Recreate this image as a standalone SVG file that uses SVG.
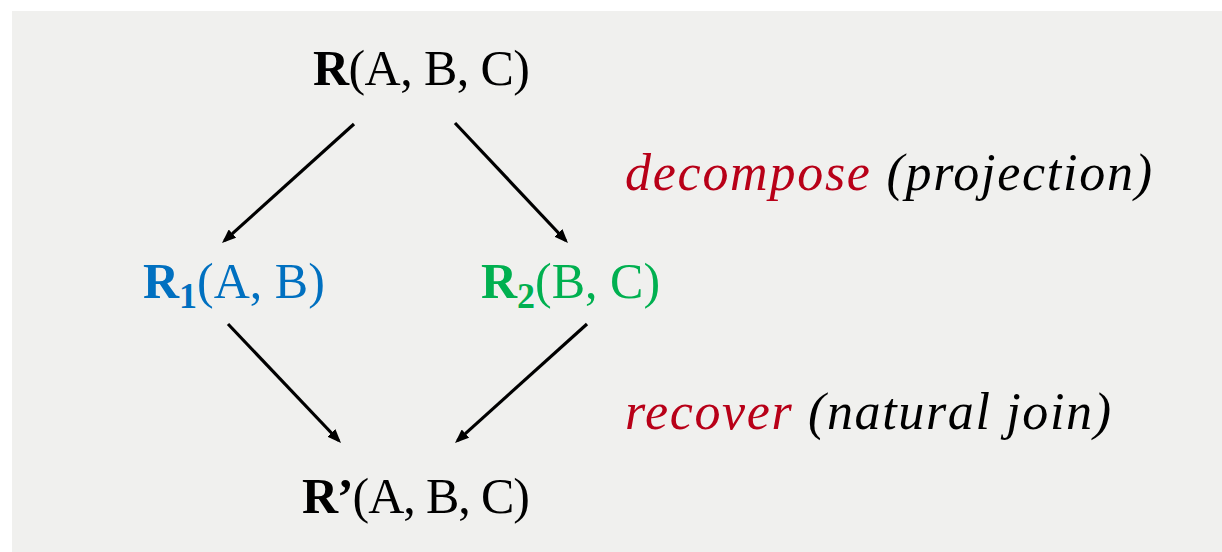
<svg xmlns="http://www.w3.org/2000/svg" width="1222" height="552" viewBox="0 0 1222 552">
<style>
.t{font-family:"Liberation Serif","Times New Roman",serif;font-size:50px;fill:#000}
.i{font-style:italic;font-size:52px}
.b{font-weight:bold}
.red{fill:#B80018}
.blue{fill:#0070C0}
.green{fill:#00B050}
.sub{font-size:36px;font-weight:bold}
.c{stroke:#000;stroke-width:3.2;fill:none}
</style>
<defs>
<marker id="ah" viewBox="0 0 14 11" refX="10.5" refY="5.5" markerWidth="14" markerHeight="11" markerUnits="userSpaceOnUse" orient="auto">
<path d="M0,0 L14,5.5 L0,11 z" fill="#000"/>
</marker>
</defs>
<rect x="0" y="0" width="1222" height="552" fill="#ffffff"/>
<rect x="12" y="11" width="1210" height="541" fill="#f0f0ee"/>
<g id="connectors">
<line class="c" x1="354" y1="124" x2="224.6" y2="240.6" marker-end="url(#ah)"/>
<line class="c" x1="455" y1="123" x2="565.6" y2="240.5" marker-end="url(#ah)"/>
<line class="c" x1="228" y1="324" x2="338.6" y2="440.5" marker-end="url(#ah)"/>
<line class="c" x1="587" y1="324" x2="457.6" y2="440.6" marker-end="url(#ah)"/>
</g>
<g id="R">
<text class="t" x="313" y="85" textLength="217" lengthAdjust="spacing"><tspan class="b">R</tspan>(A, B, C)</text>
</g>
<g id="R1">
<text class="t blue" x="143" y="298"><tspan class="b">R</tspan><tspan class="sub" dy="10">1</tspan><tspan dy="-10">(A, B)</tspan></text>
</g>
<g id="R2">
<text class="t green" x="481" y="298"><tspan class="b">R</tspan><tspan class="sub" dy="10">2</tspan><tspan dy="-10">(B, C)</tspan></text>
</g>
<g id="Rprime">
<text class="t" x="302" y="513" textLength="228" lengthAdjust="spacing"><tspan class="b">R’</tspan>(A, B, C)</text>
</g>
<g id="decompose">
<text class="t i" x="625" y="190" textLength="527" lengthAdjust="spacing"><tspan class="red">decompose</tspan> (projection)</text>
</g>
<g id="recover">
<text class="t i" x="625" y="429" textLength="486" lengthAdjust="spacing"><tspan class="red">recover</tspan> (natural join)</text>
</g>
</svg>
